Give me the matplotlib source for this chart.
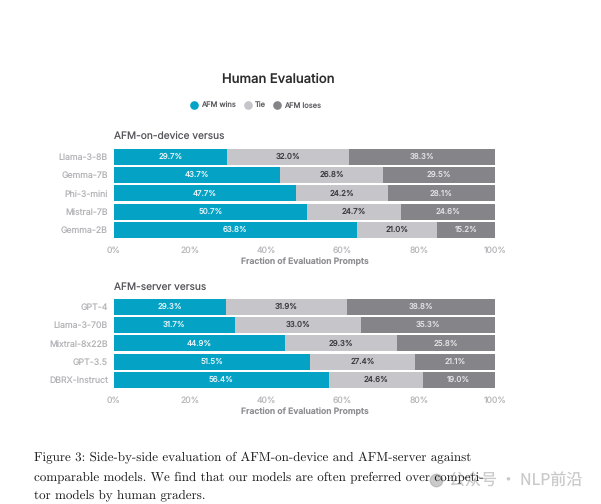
import matplotlib
matplotlib.use('Agg')
import matplotlib.pyplot as plt
from matplotlib.lines import Line2D

plt.rcParams['font.family'] = ['Inter', 'DejaVu Sans']
plt.rcParams['text.hinting'] = 'no_hinting'
plt.rcParams['axes.formatter.use_mathtext'] = True

device_models = ['Llama-3-8B', 'Gemma-7B', 'Phi-3-mini', 'Mistral-7B', 'Gemma-2B']
device_wins = [29.7, 43.7, 47.7, 50.7, 63.8]
device_tie = [32.0, 26.8, 24.2, 24.7, 21.0]
device_loses = [38.3, 29.5, 28.1, 24.6, 15.2]

server_models = ['GPT-4', 'Llama-3-70B', 'Mixtral-8x22B', 'GPT-3.5', 'DBRX-Instruct']
server_wins = [29.3, 31.7, 44.9, 51.5, 56.4]
server_tie = [31.9, 33.0, 29.3, 27.4, 24.6]
server_loses = [38.8, 35.3, 25.8, 21.1, 19.0]

series_names = ['AFM wins', 'Tie', 'AFM loses']
colors = ['#04a3c5', '#c6c5ca', '#858589']
text_colors = ['#e4f3f7', '#3a3a3d', '#e2e2e4']
ticks = [0, 20, 40, 60, 80, 100]

W, H = 601, 504
fig = plt.figure(figsize=(W / 100, H / 100), dpi=100)


def panel(top, title, models, wins, tie, loses):
    # 5 rows, 18.33 px pitch, 16 px bars
    ax = fig.add_axes([114 / W, 1 - (top + 91.5) / H, 381 / W, 91.5 / H])
    left = [0] * 5
    for vals, c, tc in zip([wins, tie, loses], colors, text_colors):
        ax.barh(range(5), vals, left=left, height=0.873, color=c, linewidth=0)
        for i, v in enumerate(vals):
            ax.text(left[i] + v / 2, i, '%.1f%%' % v, ha='center', va='center',
                    fontsize=5.7, color=tc)
        left = [a + b for a, b in zip(left, vals)]
    ax.set_xlim(0, 100)
    ax.set_ylim(4.5, -0.5)
    ax.set_yticks(range(5))
    ax.set_yticklabels(models, fontsize=6.3, color='#b4b4b8')
    ax.set_xticks(ticks)
    ax.set_xticklabels(['%d%%' % t for t in ticks], fontsize=6.2, color='#b8b8bc')
    ax.tick_params(length=0, pad=5)
    ax.tick_params(axis='y', pad=4.3)
    for s in ax.spines.values():
        s.set_visible(False)
    ax.set_xlabel('Fraction of Evaluation Prompts', fontsize=6.2, color='#8e8e92',
                  fontweight='semibold', labelpad=2.5)
    fig.text(114 / W, 1 - (top - 10.5) / H, title, fontsize=7.3, color='#55555a',
             ha='left', va='center')


panel(147.5, 'AFM-on-device versus', device_models, device_wins, device_tie, device_loses)
panel(297.5, 'AFM-server versus', server_models, server_wins, server_tie, server_loses)

fig.text(278 / W, 1 - 79.5 / H, 'Human Evaluation', fontsize=9.4, color='#2c2c2e',
         fontweight='medium', ha='center', va='center')

handles = [Line2D([], [], marker='o', linestyle='', color=c, markersize=5.2) for c in colors]
fig.legend(handles, series_names, loc='center', bbox_to_anchor=(255.5 / W, 1 - 105.5 / H),
           ncol=3, frameon=False, fontsize=5.4, labelcolor='#606064', handlelength=1.2,
           handletextpad=0.35, columnspacing=0.95, borderpad=0)

# watermark under the caption
fig.add_artist(Line2D([436 / W], [1 - 480 / H], marker='o', markersize=9, color='#a8a8a8',
                      alpha=0.6, linestyle='', transform=fig.transFigure))
fig.text(449 / W, 1 - 481 / H, '公众号 · NLP前沿', fontsize=11.5, color='#b8b8b8', alpha=0.75,
         family=['Noto Sans CJK SC', 'DejaVu Sans'], ha='left', va='center')

caption = ['Figure 3: Side-by-side evaluation of AFM-on-device and AFM-server against',
           'comparable models. We find that our models are often preferred over competi-',
           'tor models by human graders.']
for y, line in zip([458, 477, 495], caption):
    fig.text(34 / W, 1 - y / H, line, family='cmr10', fontsize=9.4, color='#1c1c1c',
             ha='left', va='center')

fig.savefig('out.png', dpi=100)
